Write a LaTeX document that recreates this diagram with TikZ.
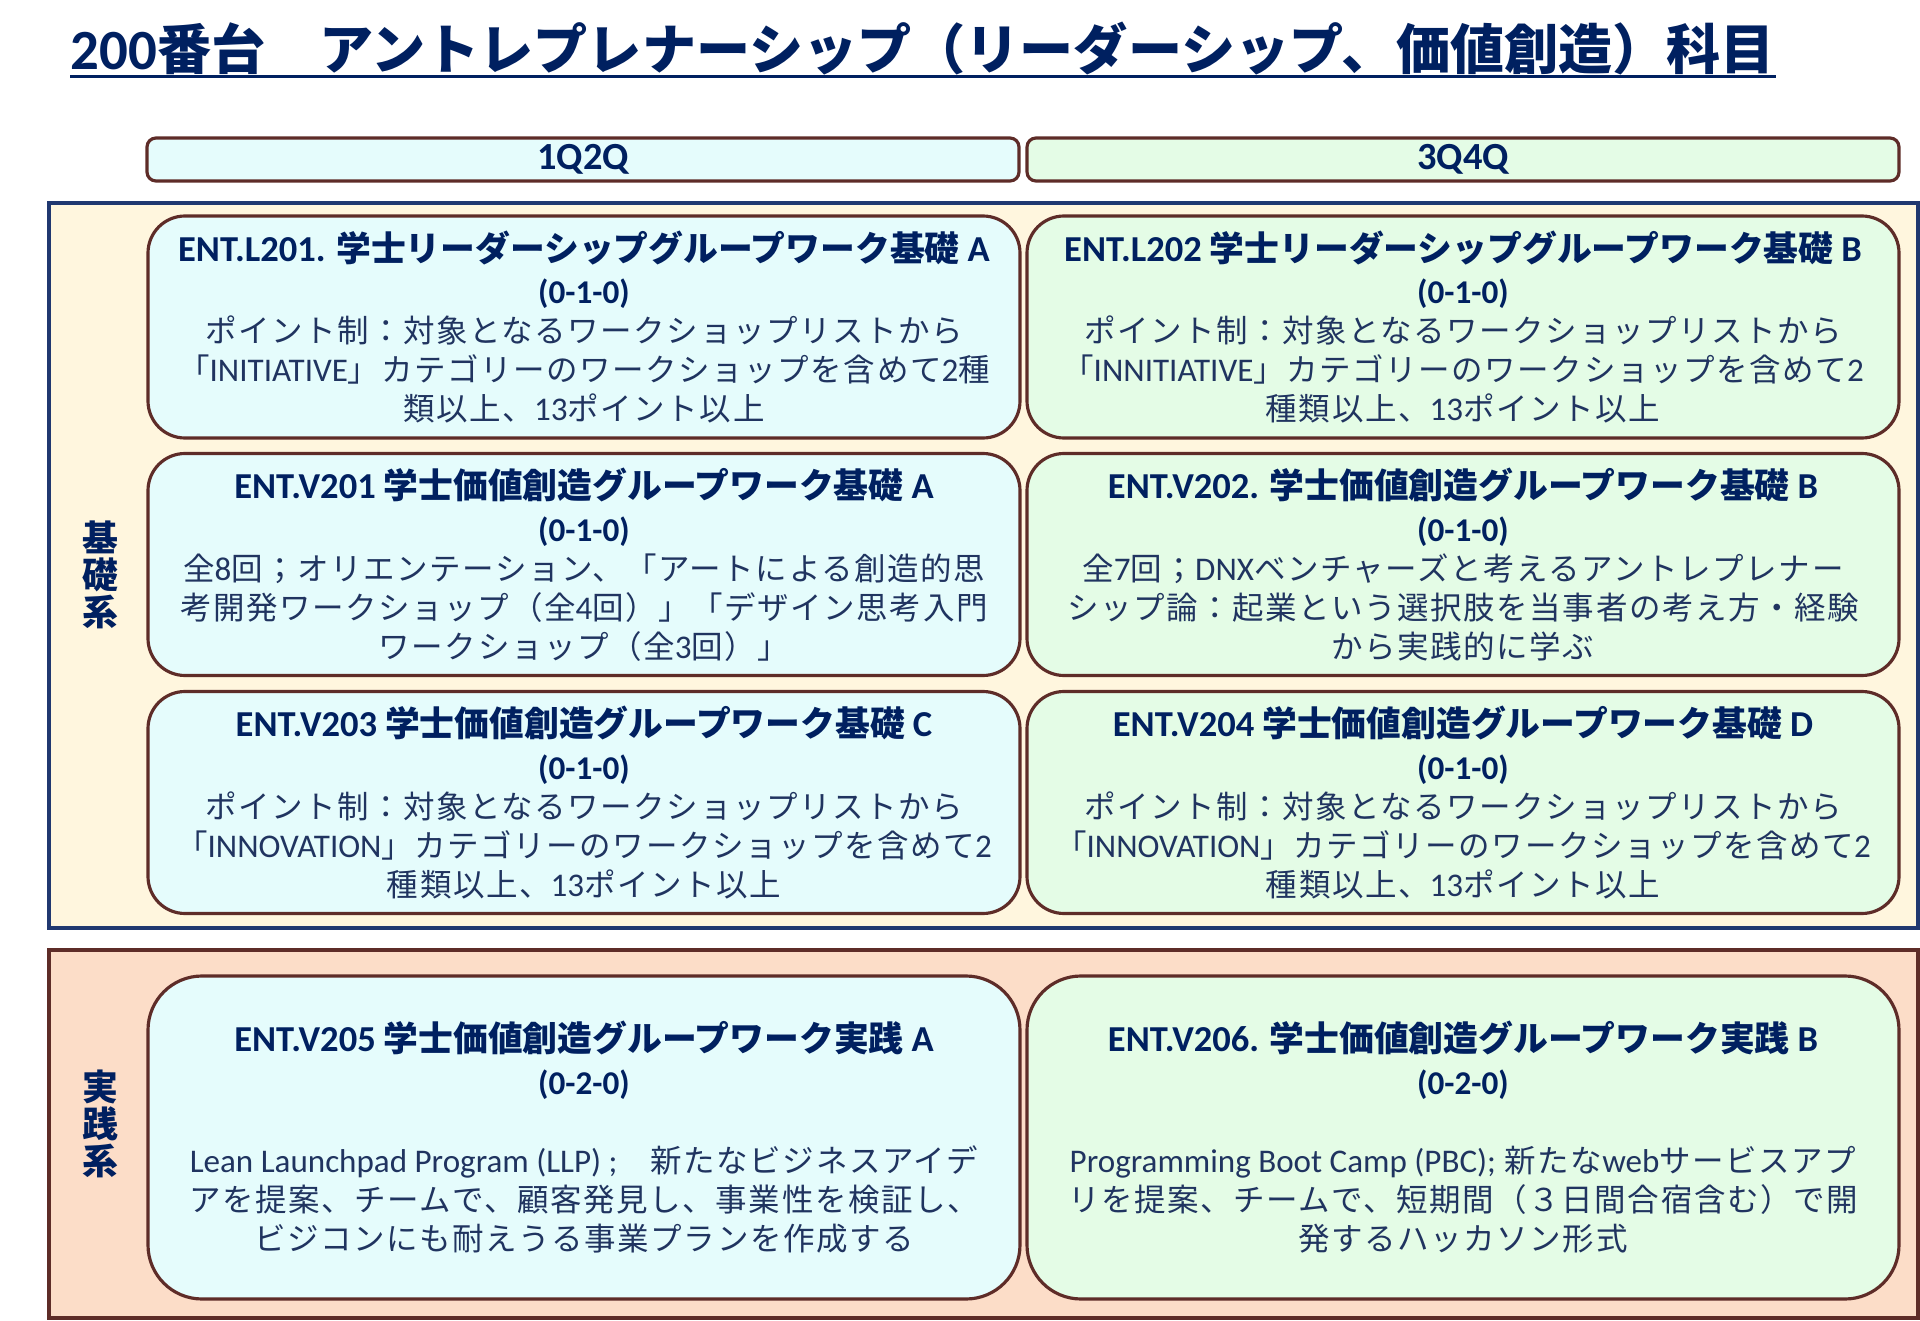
\documentclass[tikz,border=0pt]{standalone}
\usepackage{fontspec}
\setmainfont{Noto Sans CJK JP}
\newfontfamily\jpbody{Noto Sans CJK JP}[LetterSpace=5]
\newfontfamily\lat{Carlito}[Scale=1.05]
\newcommand\en[1]{{\lat #1}}
\newcommand\ctitle[1]{{\rmfamily\bfseries\color{navy}\fontsize{9.9}{11.1}\selectfont #1}}
\newcommand\cunits[1]{{\lat\bfseries\color{navy}\fontsize{9}{11.1}\selectfont #1}}
\definecolor{navy}{RGB}{0,32,96}
\definecolor{bodytext}{RGB}{32,52,96}
\definecolor{framenavy}{RGB}{32,56,112}
\definecolor{boxbrown}{RGB}{94,44,40}
\definecolor{cyanbg}{RGB}{229,252,252}
\definecolor{greenbg}{RGB}{228,252,230}
\definecolor{creambg}{RGB}{255,246,222}
\definecolor{peachbg}{RGB}{252,221,200}

\begin{document}
\begin{tikzpicture}[x=0.1mm, y=-0.1mm,
    hdr/.style={draw=boxbrown, line width=0.9pt, rounded corners=0.9mm,
      minimum width=87.2mm, minimum height=4.3mm, inner sep=0pt,
      font=\lat\bfseries\fontsize{10.4}{12}\selectfont, text=navy},
    course/.style={draw=boxbrown, line width=0.9pt, rounded corners=3.7mm,
      minimum width=87.2mm, minimum height=22.2mm, inner sep=0pt,
      align=center, text=bodytext, font=\jpbody\fontsize{8.96}{11.1}\selectfont},
    bigcourse/.style={course, rounded corners=5.4mm, minimum height=32.3mm},
    lcol/.style={fill=cyanbg},
    rcol/.style={fill=greenbg},
    frame/.style={line width=0.9pt, minimum width=186.9mm, inner sep=0pt},
    side/.style={font=\bfseries\fontsize{10.2}{10.6}\selectfont, text=navy, align=center}]
  \useasboundingbox (0,0) rectangle (1920,1321);

  % title
  \node[anchor=base west, inner sep=0pt, text=navy,
        font=\bfseries\fontsize{15.4}{18}\selectfont] (title) at (70,70)
        {\en{200}番台　アントレプレナーシップ（リーダーシップ、価値創造）科目};
  \draw[navy, line width=0.9pt]
        ([yshift=-1.8pt]title.base west) -- ([yshift=-1.8pt]title.base east);

  % quarter headers
  \node[hdr, lcol] (Q12) at (583,159.5) {1Q2Q};
  \node[hdr, rcol] (Q34) at (1463,159.5) {3Q4Q};

  % frames
  \node[frame, draw=framenavy, fill=creambg, minimum height=72.5mm] (kiso) at (983.5,565.5) {};
  \node[frame, draw=boxbrown, fill=peachbg, minimum height=36.8mm] (jissen) at (983.5,1134) {};
  \node[side] (kisolab) at (100,575) {基\\礎\\系};
  \node[side] (jissenlab) at (100,1124) {実\\践\\系};

  % basic courses
  \node[course, lcol] (L201) at (584,327) {%
    \ctitle{\en{ENT.L201.} 学士リーダーシップグループワーク基礎 \en{A}}\\[1.1pt]
    \cunits{(0-1-0)}\\
    ポイント制：対象となるワークショップリストから\\
    「\en{INITIATIVE}」カテゴリーのワークショップを含めて\en{2}種\\
    類以上、\en{13}ポイント以上};
  \node[course, rcol] (L202) at (1463,327) {%
    \ctitle{\en{ENT.L202} 学士リーダーシップグループワーク基礎 \en{B}}\\[1.1pt]
    \cunits{(0-1-0)}\\
    ポイント制：対象となるワークショップリストから\\
    「\en{INNITIATIVE}」カテゴリーのワークショップを含めて\en{2}\\
    種類以上、\en{13}ポイント以上};
  \node[course, lcol] (V201) at (584,564.5) {%
    \ctitle{\en{ENT.V201} 学士価値創造グループワーク基礎 \en{A}}\\[1.1pt]
    \cunits{(0-1-0)}\\
    全\en{8}回；オリエンテーション、「アートによる創造的思\\
    考開発ワークショップ（全\en{4}回）」「デザイン思考入門\\
    ワークショップ（全\en{3}回）」};
  \node[course, rcol] (V202) at (1463,564.5) {%
    \ctitle{\en{ENT.V202.} 学士価値創造グループワーク基礎 \en{B}}\\[1.1pt]
    \cunits{(0-1-0)}\\
    全\en{7}回；\en{DNX}ベンチャーズと考えるアントレプレナー\\
    シップ論：起業という選択肢を当事者の考え方・経験\\
    から実践的に学ぶ};
  \node[course, lcol] (V203) at (584,802.5) {%
    \ctitle{\en{ENT.V203} 学士価値創造グループワーク基礎 \en{C}}\\[1.1pt]
    \cunits{(0-1-0)}\\
    ポイント制：対象となるワークショップリストから\\
    「\en{INNOVATION}」カテゴリーのワークショップを含めて\en{2}\\
    種類以上、\en{13}ポイント以上};
  \node[course, rcol] (V204) at (1463,802.5) {%
    \ctitle{\en{ENT.V204} 学士価値創造グループワーク基礎 \en{D}}\\[1.1pt]
    \cunits{(0-1-0)}\\
    ポイント制：対象となるワークショップリストから\\
    「\en{INNOVATION}」カテゴリーのワークショップを含めて\en{2}\\
    種類以上、\en{13}ポイント以上};

  % practice courses
  \node[bigcourse, lcol] (V205) at (584,1137.5) {%
    \ctitle{\en{ENT.V205} 学士価値創造グループワーク実践 \en{A}}\\[1.1pt]
    \cunits{(0-2-0)}\\[11.1pt]
    \en{Lean Launchpad Program (LLP) ;}　新たなビジネスアイデ\\
    アを提案、チームで、顧客発見し、事業性を検証し、\\
    ビジコンにも耐えうる事業プランを作成する};
  \node[bigcourse, rcol] (V206) at (1463,1137.5) {%
    \ctitle{\en{ENT.V206.} 学士価値創造グループワーク実践 \en{B}}\\[1.1pt]
    \cunits{(0-2-0)}\\[11.1pt]
    \en{Programming Boot Camp (PBC);} 新たな\en{web}サービスアプ\\
    リを提案、チームで、短期間（３日間合宿含む）で開\\
    発するハッカソン形式};
\end{tikzpicture}
\end{document}
